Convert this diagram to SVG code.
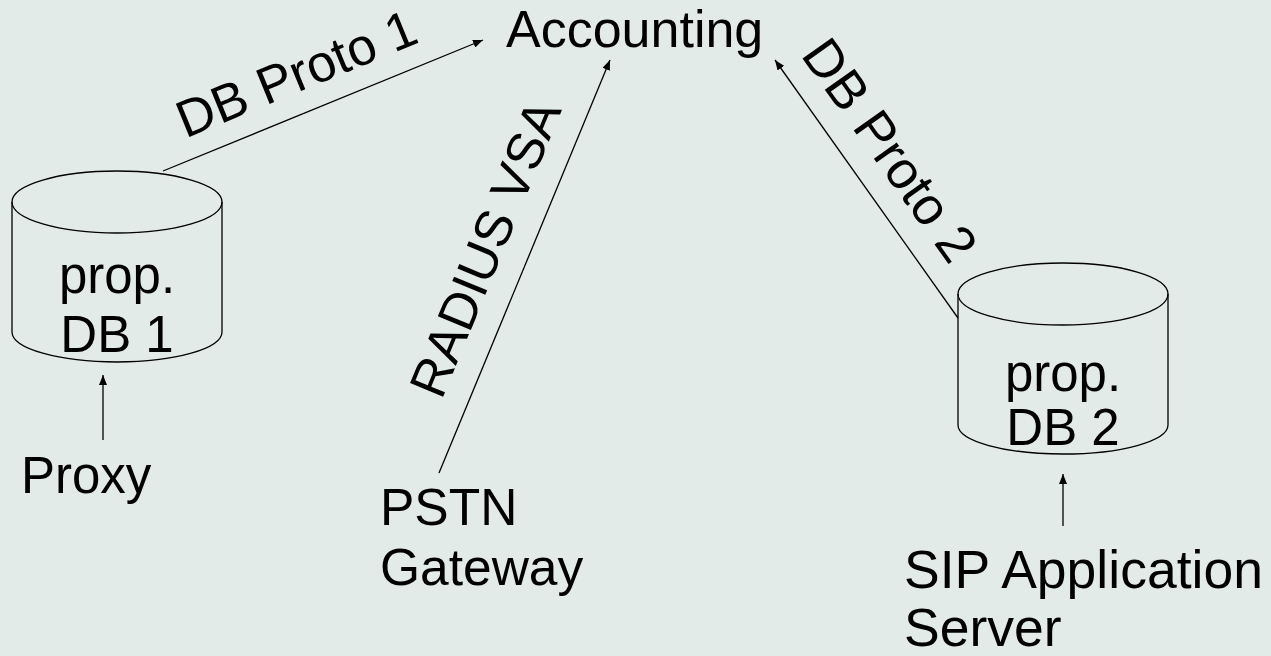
<svg xmlns="http://www.w3.org/2000/svg" width="1271" height="656" viewBox="0 0 1271 656">
<defs>
<style>
.t{font-family:"Liberation Sans",Arial,sans-serif;font-size:51px;fill:#000}
.l{font-size:52px}
.cyl{fill:none;stroke:#000;stroke-width:1.3}
.c{fill:none;stroke:#000;stroke-width:1.3}
</style>
<marker id="ah" viewBox="0 0 10 8" refX="10" refY="4" markerWidth="10" markerHeight="8" markerUnits="userSpaceOnUse" orient="auto">
<path d="M0,0 L10,4 L0,8 Z" fill="#000"/>
</marker>
</defs>
<rect width="1271" height="656" fill="#e3ebe8"/>
<g id="connectors">
<line class="c" x1="163" y1="171" x2="483" y2="40" marker-end="url(#ah)"/>
<line class="c" x1="439" y1="473" x2="610" y2="60" marker-end="url(#ah)"/>
<line class="c" x1="958" y1="318" x2="775" y2="60" marker-end="url(#ah)"/>
<line class="c" x1="103" y1="440" x2="103" y2="375" marker-end="url(#ah)"/>
<line class="c" x1="1063" y1="526" x2="1063" y2="474" marker-end="url(#ah)"/>
<text class="t l" transform="translate(185.5,138.4) rotate(-22.3)">DB Proto 1</text>
<text class="t l" transform="translate(441.5,400.7) rotate(-67.5)">RADIUS VSA</text>
<text class="t" style="font-size:53px" transform="translate(800,55) rotate(54.6)">DB Proto 2</text>
</g>
<g id="accounting"><text class="t l" x="506" y="47">Accounting</text></g>
<g id="db1">
<ellipse class="cyl" cx="117" cy="202" rx="105" ry="31"/>
<path class="cyl" d="M12,202 L12,332 A105,30 0 0 0 222,332 L222,202"/>
<text class="t" x="117" y="293" text-anchor="middle">prop.</text>
<text class="t" x="117" y="352" text-anchor="middle">DB 1</text>
</g>
<g id="db2">
<ellipse class="cyl" cx="1063" cy="294" rx="105" ry="31"/>
<path class="cyl" d="M958,294 L958,425 A105,29 0 0 0 1168,425 L1168,294"/>
<text class="t" x="1063" y="391" text-anchor="middle">prop.</text>
<text class="t" x="1063" y="445" text-anchor="middle">DB 2</text>
</g>
<g id="proxy"><text class="t" x="21" y="493">Proxy</text></g>
<g id="pstn"><text class="t" x="380" y="525" style="font-size:51.5px">PSTN</text><text class="t" x="380" y="585" style="font-size:51.5px">Gateway</text></g>
<g id="sip"><text class="t" x="904" y="588" style="font-size:53.5px">SIP Application</text><text class="t" x="904" y="646" style="font-size:53.5px">Server</text></g>
</svg>
